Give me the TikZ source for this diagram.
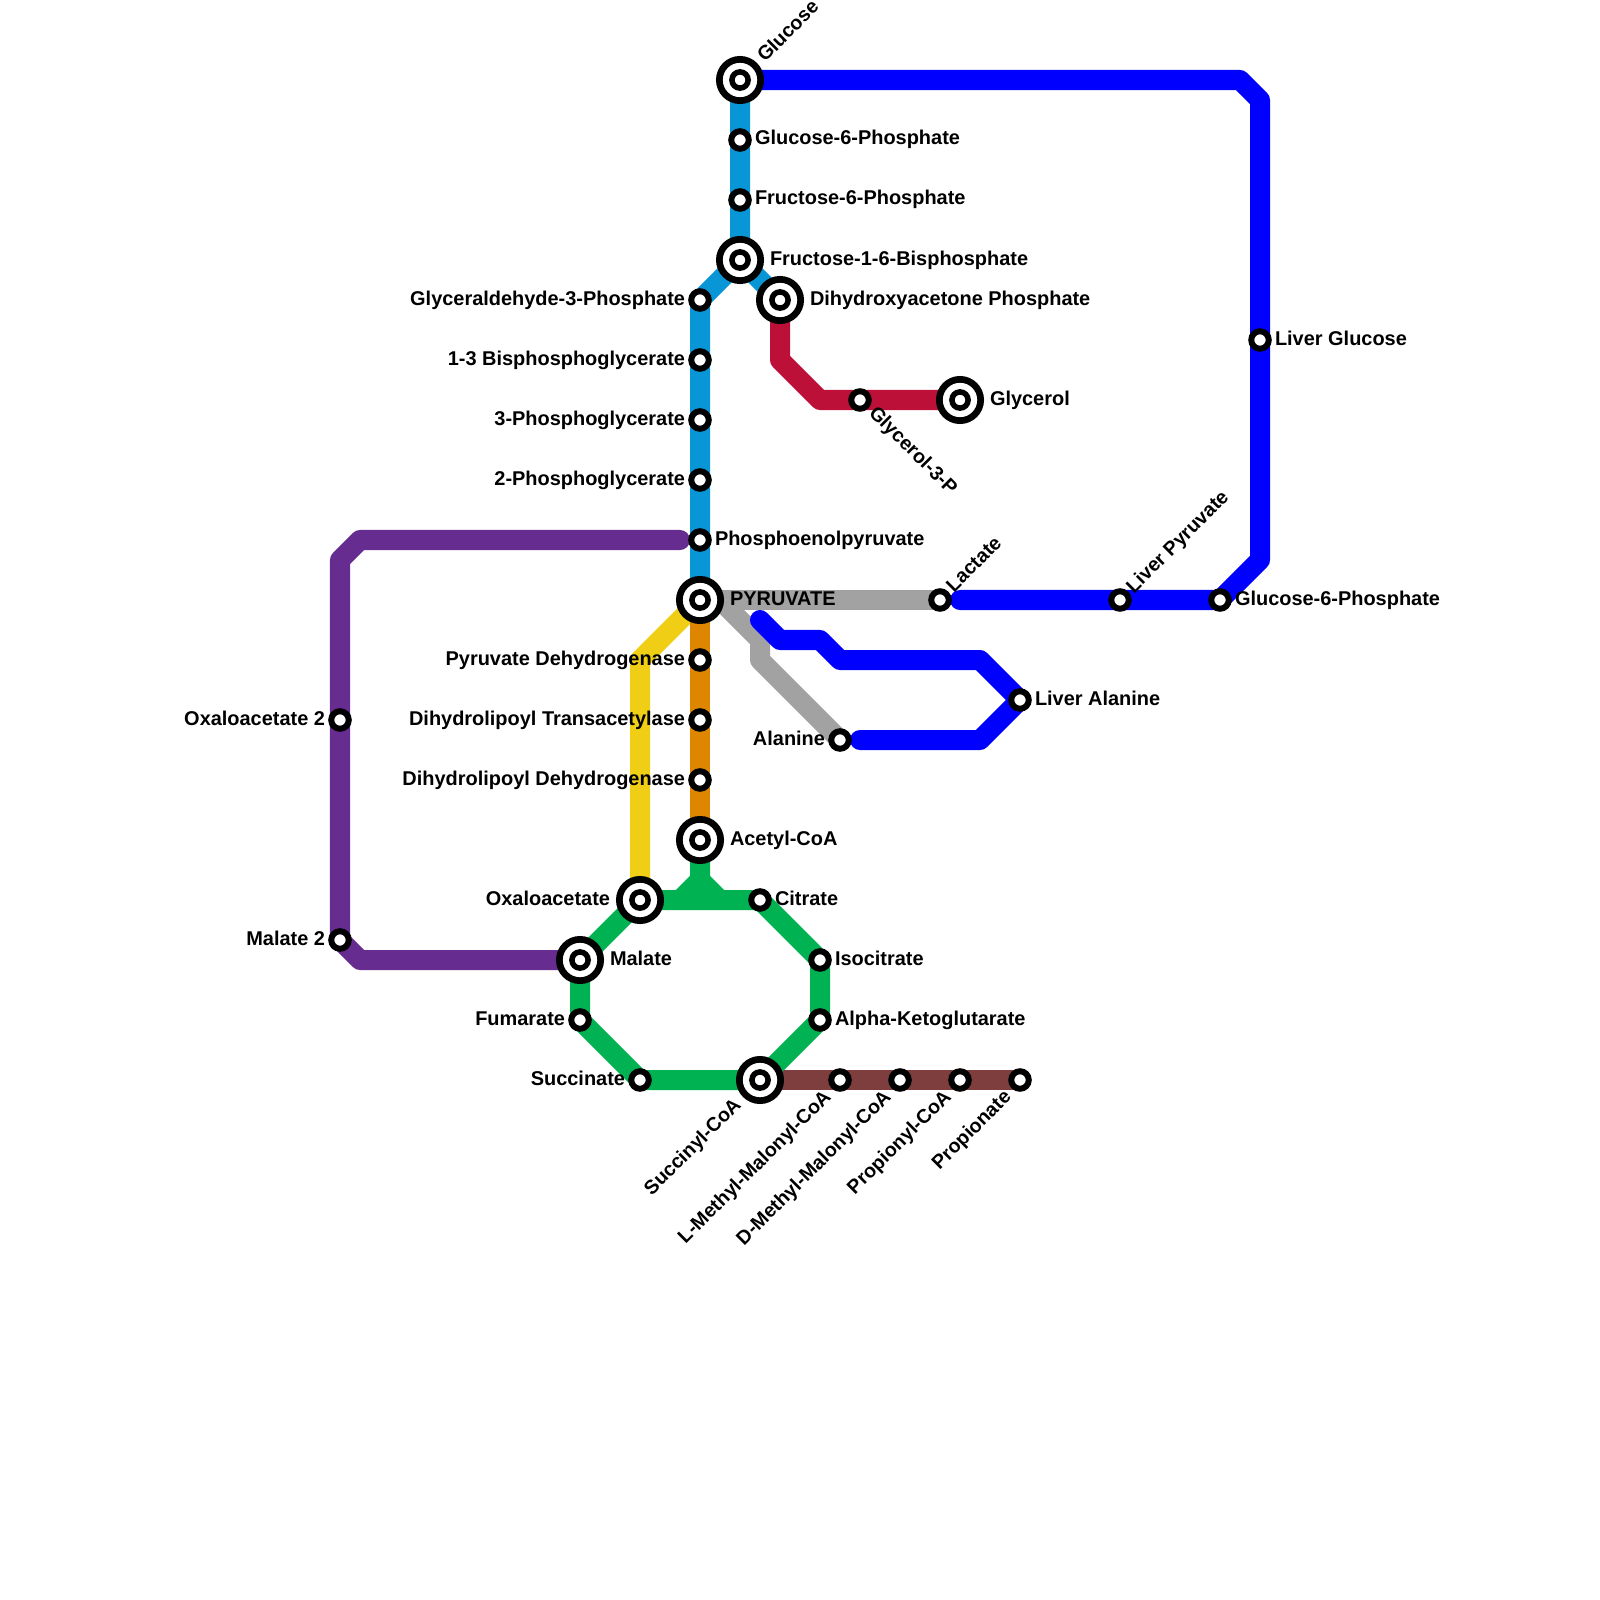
\documentclass[tikz,border=0pt]{standalone}
\usepackage{fontspec}
\usetikzlibrary{backgrounds}
\setmainfont{Liberation Sans}
\definecolor{lineBlue}{HTML}{0000FF}
\definecolor{lineSky}{HTML}{0896D7}
\definecolor{linePurple}{HTML}{662C90}
\definecolor{lineYellow}{HTML}{F0CE15}
\definecolor{lineOrange}{HTML}{DF8600}
\definecolor{lineGreen}{HTML}{00B251}
\definecolor{lineGray}{HTML}{A2A2A2}
\definecolor{lineRed}{HTML}{BD1038}
\definecolor{lineBrown}{HTML}{7F3E3E}
\begin{document}
\begin{tikzpicture}[x=0.01cm, y=-0.01cm,
	route/.style={line width=0.2cm, line join=round, line cap=round},
	stop/.style={circle, draw=black, fill=white, line width=0.06cm, minimum size=0.175cm, inner sep=0pt, outer sep=0pt},
	bigstop/.style={stop, line width=0.067cm, minimum size=0.413cm, path picture={\draw[line width=0.055cm] (path picture bounding box.center) circle (0.081cm);}},
	txt/.style={inner sep=0pt, outer sep=0pt, font=\fontsize{5.67pt}{6.5pt}\selectfont\bfseries},
	slant/.style={inner sep=0pt, outer sep=0pt, font=\fontsize{5.58pt}{6.5pt}\selectfont\bfseries}]
	\useasboundingbox (0,0) rectangle (1600,1600);

	% === bends and free ends ===
	\coordinate (topA) at (1240,80);
	\coordinate (topB) at (1260,100);
	\coordinate (topC) at (1260,560);
	\coordinate (lacEnd) at (960,600);
	\coordinate (alaEnd) at (860,740);
	\coordinate (alaA) at (980,740);
	\coordinate (alaB) at (980,660);
	\coordinate (alaC) at (840,660);
	\coordinate (alaD) at (820,640);
	\coordinate (alaE) at (780,640);
	\coordinate (alaF) at (760,620);
	\coordinate (grayA) at (720,600);
	\coordinate (grayB) at (760,640);
	\coordinate (grayC) at (760,660);
	\coordinate (redA) at (780,360);
	\coordinate (redB) at (820,400);
	\coordinate (yelA) at (640,660);
	\coordinate (purA) at (360,960);
	\coordinate (purB) at (340,560);
	\coordinate (purC) at (360,540);
	\coordinate (purEnd) at (680,540);
	\coordinate (grnA) at (700,880);
	\coordinate (grnB) at (680,900);
	\coordinate (grnC) at (720,900);

	% === stations ===
	\node[bigstop] (glucose) at (740,80) {};
	\node[stop] (gsixp) at (740,140) {};
	\node[stop] (fsixp) at (740,200) {};
	\node[bigstop] (fbp) at (740,260) {};
	\node[bigstop] (dhap) at (780,300) {};
	\node[stop] (gap) at (700,300) {};
	\node[stop] (bpg) at (700,360) {};
	\node[stop] (pgThree) at (700,420) {};
	\node[stop] (pgTwo) at (700,480) {};
	\node[stop] (pep) at (700,540) {};
	\node[bigstop] (pyruvate) at (700,600) {};
	\node[stop] (pdh) at (700,660) {};
	\node[stop] (dlat) at (700,720) {};
	\node[stop] (dld) at (700,780) {};
	\node[bigstop] (acetyl) at (700,840) {};
	\node[bigstop] (oaa) at (640,900) {};
	\node[stop] (citrate) at (760,900) {};
	\node[stop] (isocit) at (820,960) {};
	\node[stop] (akg) at (820,1020) {};
	\node[bigstop] (succoa) at (760,1080) {};
	\node[stop] (succinate) at (640,1080) {};
	\node[stop] (fumarate) at (580,1020) {};
	\node[bigstop] (malate) at (580,960) {};
	\node[stop] (oaaTwo) at (340,720) {};
	\node[stop] (malTwo) at (340,940) {};
	\node[stop] (lmm) at (840,1080) {};
	\node[stop] (dmm) at (900,1080) {};
	\node[stop] (propcoa) at (960,1080) {};
	\node[stop] (propionate) at (1020,1080) {};
	\node[stop] (gthreep) at (860,400) {};
	\node[bigstop] (glycerol) at (960,400) {};
	\node[stop] (lactate) at (940,600) {};
	\node[stop] (alanine) at (840,740) {};
	\node[stop] (liverAla) at (1020,700) {};
	\node[stop] (liverPyr) at (1120,600) {};
	\node[stop] (liverGsix) at (1220,600) {};
	\node[stop] (liverGlu) at (1260,340) {};

	% === routes, under the stations ===
	\begin{scope}[on background layer]
		\draw[route, lineGray] (pyruvate.center) -- (lactate.center);
		\draw[route, lineGray] (pyruvate.center) -- (grayA) -- (grayB) -- (grayC) -- (alanine.center);
		\draw[route, lineBlue] (glucose.center) -- (topA) -- (topB) -- (liverGlu.center) -- (topC) -- (liverGsix.center) -- (liverPyr.center) -- (lacEnd);
		\draw[route, lineBlue] (alaEnd) -- (alaA) -- (liverAla.center) -- (alaB) -- (alaC) -- (alaD) -- (alaE) -- (alaF);
		\draw[route, lineSky] (glucose.center) -- (fbp.center) -- (gap.center) -- (pyruvate.center);
		\draw[route, lineSky] (fbp.center) -- (dhap.center);
		\draw[route, lineRed] (dhap.center) -- (redA) -- (redB) -- (glycerol.center);
		\draw[route, lineYellow] (pyruvate.center) -- (yelA) -- (oaa.center);
		\draw[route, lineOrange] (pyruvate.center) -- (acetyl.center);
		\draw[route, linePurple] (malate.center) -- (purA) -- (malTwo.center) -- (purB) -- (purC) -- (purEnd);
		\draw[route, lineBrown] (succoa.center) -- (propionate.center);
		\draw[route, lineGreen] (oaa.center) -- (citrate.center) -- (isocit.center) -- (akg.center) -- (succoa.center) -- (succinate.center) -- (fumarate.center) -- (malate.center) -- (oaa.center);
		\draw[route, lineGreen] (acetyl.center) -- (grnA) -- (grnB);
		\draw[route, lineGreen] (grnA) -- (grnC);
	\end{scope}

	% === labels ===
	\node[slant, anchor=base west, rotate=45] (glucoseT) at (765,63) {Glucose};
	\node[txt, anchor=base west] (gsixpT) at (755,145) {Glucose-6-Phosphate};
	\node[txt, anchor=base west] (fsixpT) at (755,205) {Fructose-6-Phosphate};
	\node[txt, anchor=base west] (fbpT) at (770,265) {Fructose-1-6-Bisphosphate};
	\node[txt, anchor=base west] (dhapT) at (810,305) {Dihydroxyacetone Phosphate};
	\node[txt, anchor=base east] (gapT) at (685,305) {Glyceraldehyde-3-Phosphate};
	\node[txt, anchor=base east] (bpgT) at (685,365) {1-3 Bisphosphoglycerate};
	\node[txt, anchor=base east] (pgThreeT) at (685,425) {3-Phosphoglycerate};
	\node[txt, anchor=base east] (pgTwoT) at (685,485) {2-Phosphoglycerate};
	\node[txt, anchor=base west] (pepT) at (715,545) {Phosphoenolpyruvate};
	\node[txt, anchor=base west] (pyruvateT) at (730,605) {PYRUVATE};
	\node[txt, anchor=base east] (pdhT) at (685,665) {Pyruvate Dehydrogenase};
	\node[txt, anchor=base east] (dlatT) at (685,725) {Dihydrolipoyl Transacetylase};
	\node[txt, anchor=base east] (dldT) at (685,785) {Dihydrolipoyl Dehydrogenase};
	\node[txt, anchor=base west] (acetylT) at (730,845) {Acetyl-CoA};
	\node[txt, anchor=base east] (oaaT) at (610,905) {Oxaloacetate};
	\node[txt, anchor=base west] (citrateT) at (775,905) {Citrate};
	\node[txt, anchor=base west] (isocitT) at (835,965) {Isocitrate};
	\node[txt, anchor=base west] (akgT) at (835,1025) {Alpha-Ketoglutarate};
	\node[slant, anchor=base east, rotate=45] (succoaT) at (742,1106) {Succinyl-CoA};
	\node[txt, anchor=base east] (succinateT) at (625,1085) {Succinate};
	\node[txt, anchor=base east] (fumarateT) at (565,1025) {Fumarate};
	\node[txt, anchor=base west] (malateT) at (610,965) {Malate};
	\node[txt, anchor=base east] (oaaTwoT) at (325,725) {Oxaloacetate 2};
	\node[txt, anchor=base east] (malTwoT) at (325,945) {Malate 2};
	\node[slant, anchor=base east, rotate=45] (lmmT) at (832,1098) {L-Methyl-Malonyl-CoA};
	\node[slant, anchor=base east, rotate=45] (dmmT) at (892,1098) {D-Methyl-Malonyl-CoA};
	\node[slant, anchor=base east, rotate=45] (propcoaT) at (952,1098) {Propionyl-CoA};
	\node[slant, anchor=base east, rotate=45] (propionateT) at (1012,1098) {Propionate};
	\node[slant, anchor=base west, rotate=-45] (gthreepT) at (868,414) {Glycerol-3-P};
	\node[txt, anchor=base west] (glycerolT) at (990,405) {Glycerol};
	\node[slant, anchor=base west, rotate=45] (lactateT) at (954,593) {Lactate};
	\node[txt, anchor=base east] (alanineT) at (825,745) {Alanine};
	\node[txt, anchor=base west] (liverAlaT) at (1035,705) {Liver Alanine};
	\node[slant, anchor=base west, rotate=45] (liverPyrT) at (1134,594) {Liver Pyruvate};
	\node[txt, anchor=base west] (liverGsixT) at (1235,605) {Glucose-6-Phosphate};
	\node[txt, anchor=base west] (liverGluT) at (1275,345) {Liver Glucose};
\end{tikzpicture}
\end{document}
